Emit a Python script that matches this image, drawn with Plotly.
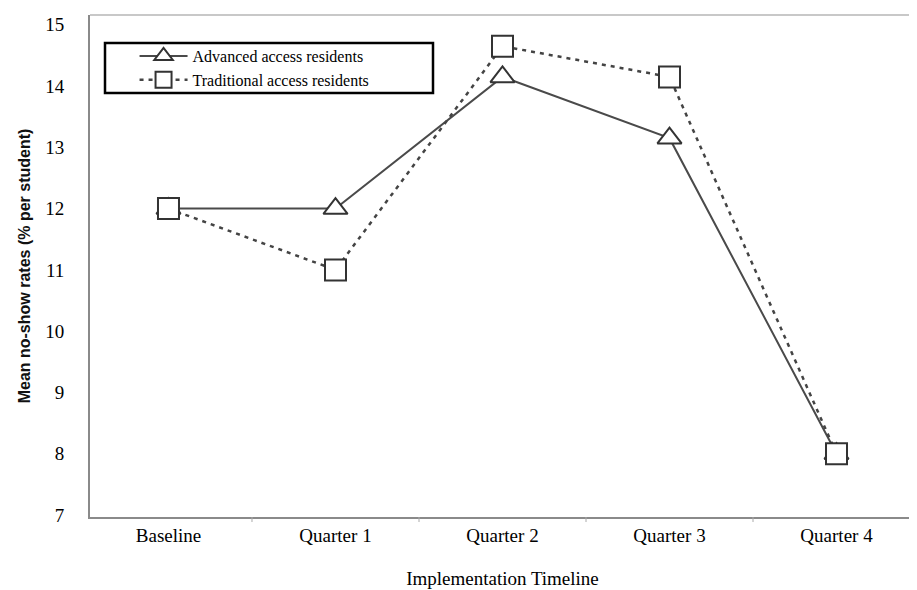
import plotly.graph_objects as go

categories = ["Baseline", "Quarter 1", "Quarter 2", "Quarter 3", "Quarter 4"]
advanced = [12.0, 12.0, 14.15, 13.15, 8.0]
traditional = [12.0, 11.0, 14.65, 14.15, 8.0]
y_ticks = [7, 8, 9, 10, 11, 12, 13, 14, 15]
x_pos = list(range(len(categories)))

SERIF = "Liberation Serif, Times New Roman, serif"

fig = go.Figure()
fig.add_trace(go.Scatter(
    x=x_pos, y=advanced, name="Advanced access residents",
    mode="lines+markers",
    line=dict(color="#4a4a4a", width=2),
    marker=dict(symbol="triangle-up", size=21, color="white",
                line=dict(color="#333333", width=2)),
))
fig.add_trace(go.Scatter(
    x=x_pos, y=traditional, name="Traditional access residents",
    mode="lines+markers",
    line=dict(color="#444444", width=2.5, dash="4px,5px"),
    marker=dict(symbol="square", size=21, color="white",
                line=dict(color="#333333", width=2)),
))

# page body has an 8px default margin, so the figure is sized to fit the remaining area
fig.update_layout(
    width=909, height=582,
    margin=dict(l=82, r=2, t=7, b=73, autoexpand=False),
    paper_bgcolor="white", plot_bgcolor="white",
    font=dict(family=SERIF, color="black", size=19),
    showlegend=True,
    legend=dict(x=0.054, y=0.952, xanchor="left", yanchor="top",
                bgcolor="rgba(0,0,0,0)", borderwidth=0,
                font=dict(family=SERIF, size=16), itemwidth=48,
                tracegroupgap=0),
    xaxis=dict(
        range=[-0.47, 4.47], tickmode="array", tickvals=x_pos, ticktext=categories,
        showgrid=False, zeroline=False, showline=True, linecolor="#8a8a8a", linewidth=2,
        ticks="", tickfont=dict(family=SERIF, size=19), automargin=False,
        title=dict(text="Implementation Timeline", font=dict(family=SERIF, size=19), standoff=27),
    ),
    yaxis=dict(
        range=[6.967, 15.16], tickmode="array", tickvals=y_ticks,
        showgrid=False, zeroline=False, showline=True, linecolor="#8a8a8a", linewidth=2,
        ticks="", ticklabelstandoff=20, tickfont=dict(family=SERIF, size=19), automargin=False,
        title=dict(text="<b>Mean no-show rates (% per student)</b>",
                   font=dict(family="Liberation Sans, Arial, sans-serif", size=16, color="#111111"),
                   standoff=11),
    ),
)

# faded top and right frame lines
fig.add_shape(type="line", xref="paper", yref="paper", x0=0, x1=1, y0=1, y1=1,
              line=dict(color="#c8c8c8", width=2))
fig.add_shape(type="line", xref="paper", yref="paper", x0=1, x1=1, y0=0, y1=1,
              line=dict(color="#dddddd", width=2))
# tick marks between categories
for b in [0.5, 1.5, 2.5, 3.5]:
    fig.add_shape(type="line", xref="x", yref="paper", x0=b, x1=b, y0=0, y1=-0.01,
                  line=dict(color="#aaaaaa", width=1))
# legend box
fig.add_shape(type="rect", xref="paper", yref="paper",
              x0=(105 - 90) / 825, x1=(433 - 90) / 825,
              y0=(517 - 93) / 502, y1=(517 - 43) / 502,
              line=dict(color="black", width=2.5), fillcolor="rgba(0,0,0,0)")

fig.write_html("out.html")
